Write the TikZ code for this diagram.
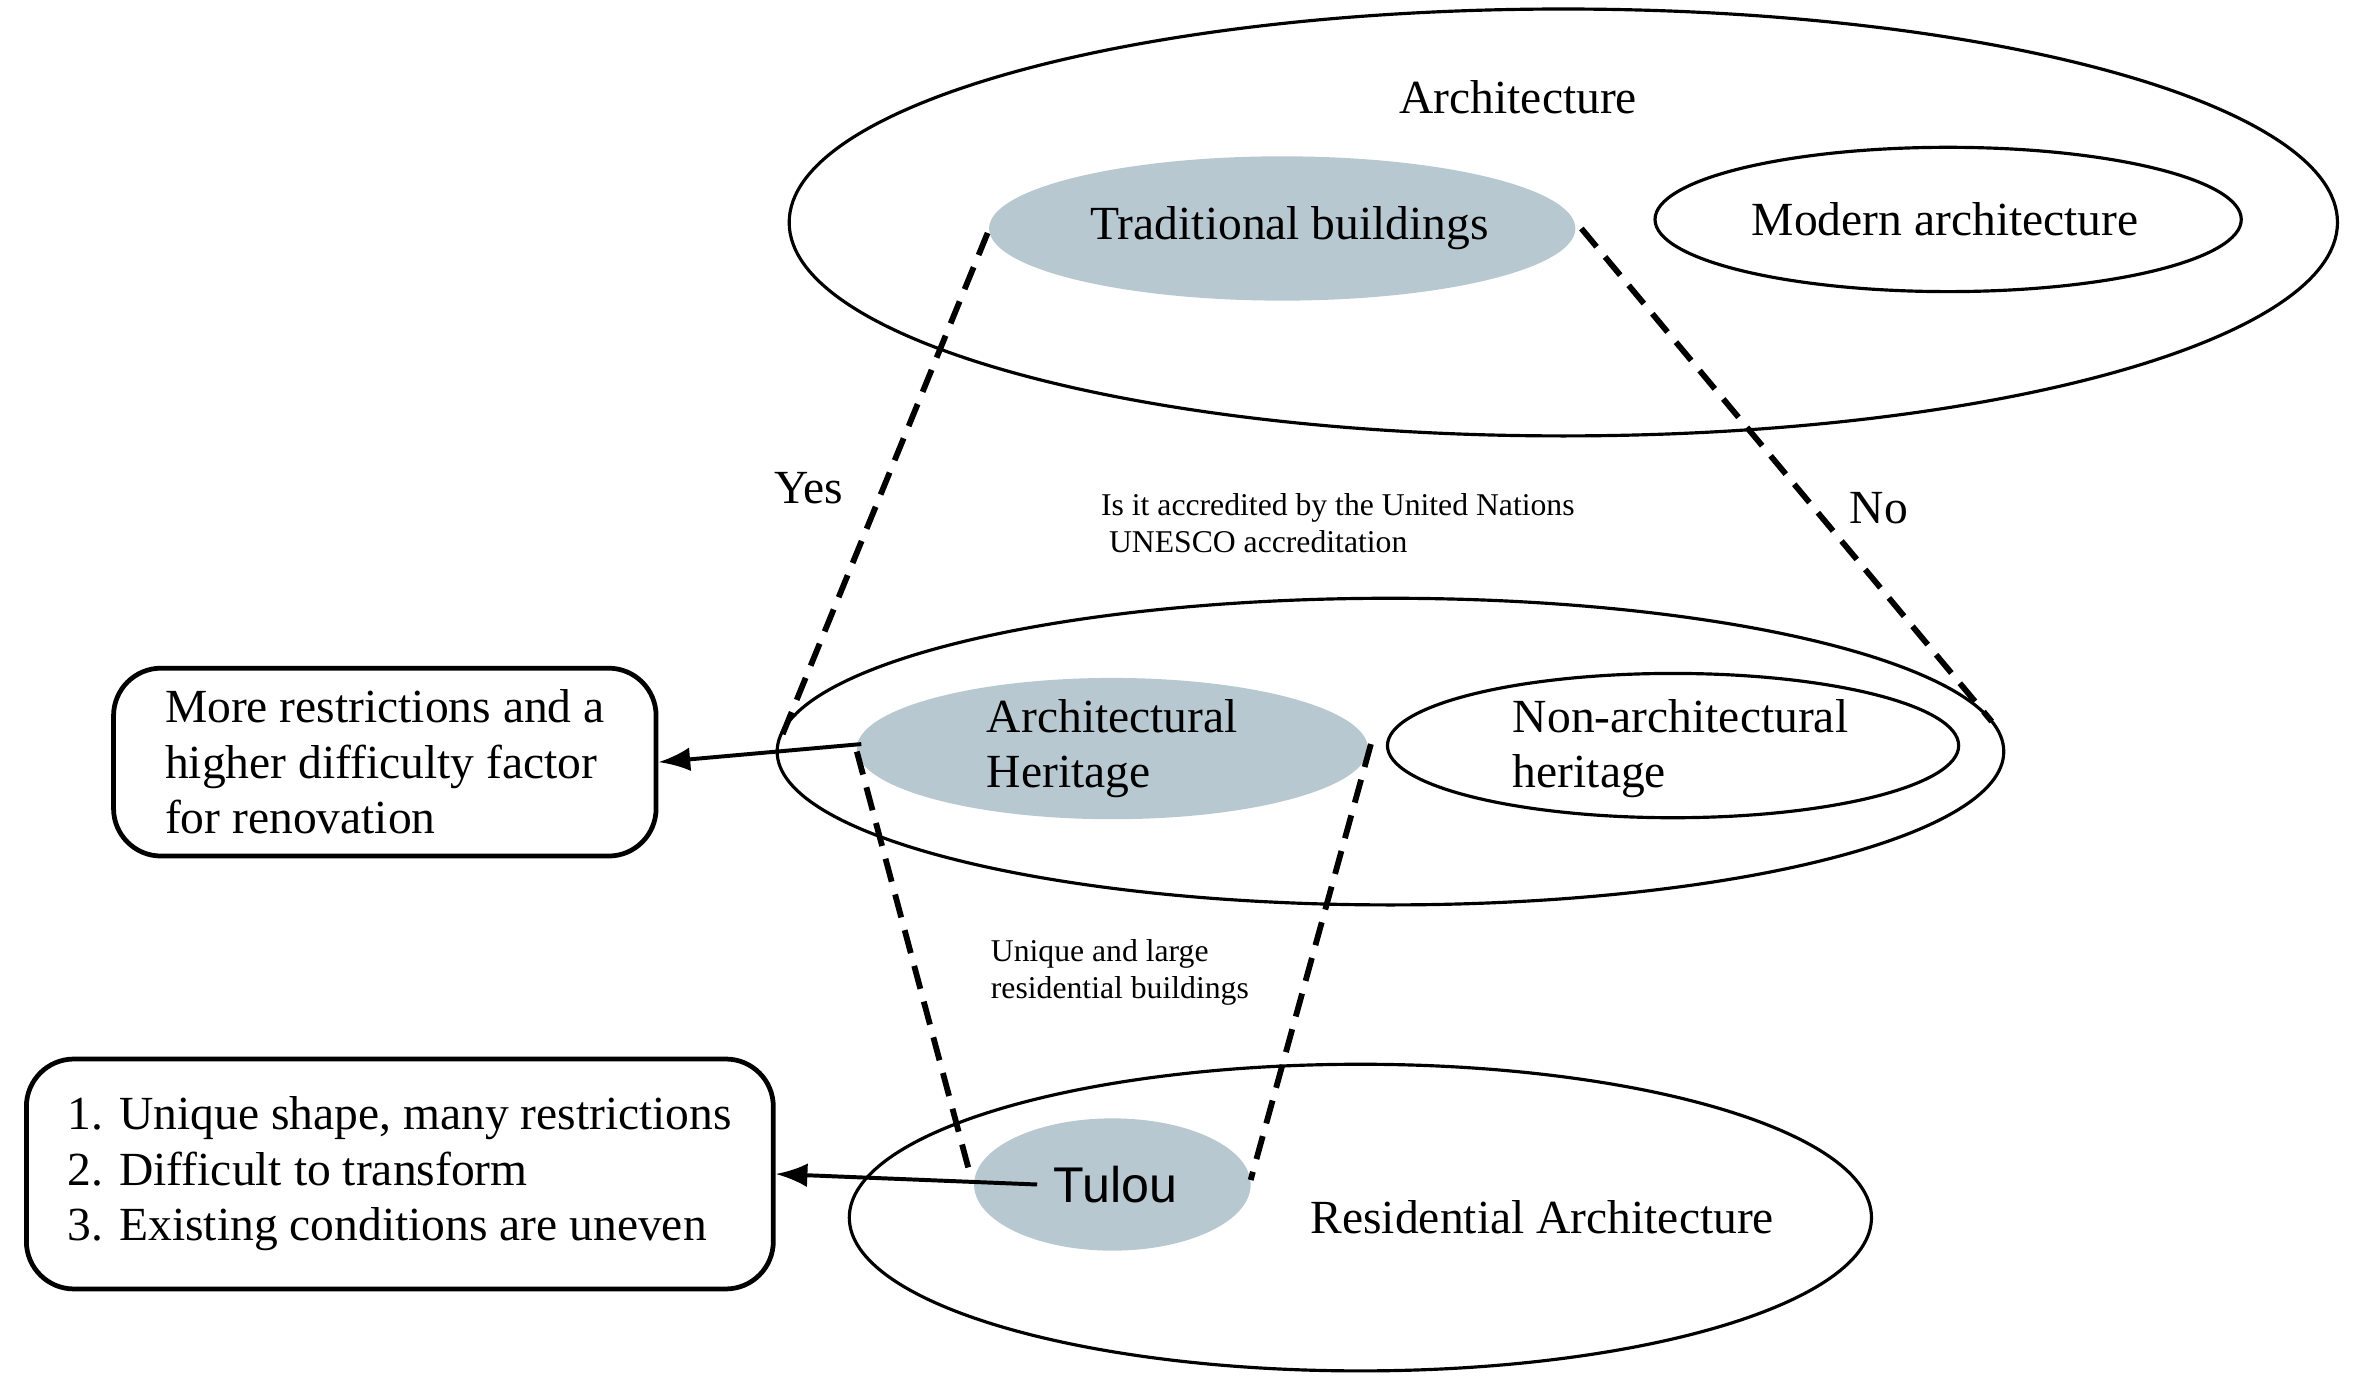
\documentclass[tikz,border=0pt]{standalone}
\usepackage{fontspec}
\setmainfont{Liberation Serif}
\newfontfamily\sansf{Liberation Sans}
\usetikzlibrary{arrows.meta}
\definecolor{fillb}{RGB}{184,200,208}
\begin{document}
\begin{tikzpicture}[x=0.02cm,y=-0.02cm,
  big/.style={font=\fontsize{18}{21}\selectfont},
  small/.style={font=\fontsize{12}{14}\selectfont},
  oval/.style={draw,line width=1.2pt},
  dashline/.style={line width=2.2pt,dash pattern=on 9pt off 5pt},
  arr/.style={line width=1.5pt,-{Latex[length=12pt,width=9pt]}},
  box/.style={draw,line width=1.8pt,rounded corners=18pt}]
\useasboundingbox (0,0) rectangle (1568,928);
\draw[oval] (1040,148) ellipse [x radius=515,y radius=142];
\node[big] (arch) at (1010,65) {Architecture};
\fill[fillb] (853,152) ellipse [x radius=195,y radius=48];
\node[big] (trad) at (858,152) {Traditional buildings};
\draw[oval] (1296,146) ellipse [x radius=195,y radius=48];
\node[big] (mod) at (1294,146) {Modern architecture};
\draw[oval] (925,500) ellipse [x radius=408,y radius=102];
\fill[fillb] (740,498) ellipse [x radius=170,y radius=47];
\node[big,align=left] (ah) at (740,498) {Architectural\\Heritage};
\draw[oval] (1113,496) ellipse [x radius=190,y radius=48];
\node[big,align=left] (nah) at (1118,498) {Non-architectural\\heritage};
\draw[oval] (905,810) ellipse [x radius=340,y radius=102];
\fill[fillb] (740,788) ellipse [x radius=92,y radius=44];
\node[font=\sansf\fontsize{19}{22}\selectfont] (tulou) at (742,788) {Tulou};
\node[big] (res) at (1026,810) {Residential Architecture};
\coordinate (t1) at (657,155); \coordinate (b1) at (520,490);
\coordinate (t2) at (1052,152); \coordinate (b2) at (1325,480);
\coordinate (t3) at (570,500); \coordinate (b3) at (645,780);
\coordinate (t4) at (912,495); \coordinate (b4) at (832,785);
\draw[dashline] (t1) -- (b1);
\draw[dashline] (t2) -- (b2);
\draw[dashline] (t3) -- (b3);
\draw[dashline] (t4) -- (b4);
\node[box,minimum width=7.22cm,minimum height=2.5cm,align=left,big,inner sep=6pt] (box1) at (256,507) {More restrictions and a\\higher difficulty factor\\for renovation};
\node[box,minimum width=9.94cm,minimum height=3.06cm,align=left,big] (box2) at (266,781) {1. Unique shape, many restrictions\\2. Difficult to transform\\3. Existing conditions are uneven};
\coordinate (a1) at (573,495);
\coordinate (a2) at (690,788);
\draw[arr] (a1) -- (box1.east);
\draw[arr] (a2) -- (box2.east);
\node[big] (yes) at (538,325) {Yes};
\node[big] (no) at (1250,338) {No};
\node[small,align=left] (q) at (890,348) {Is it accredited by the United Nations\\\ UNESCO accreditation};
\node[small,align=left] (u) at (745,647) {Unique and large\\residential buildings};
\end{tikzpicture}
\end{document}
